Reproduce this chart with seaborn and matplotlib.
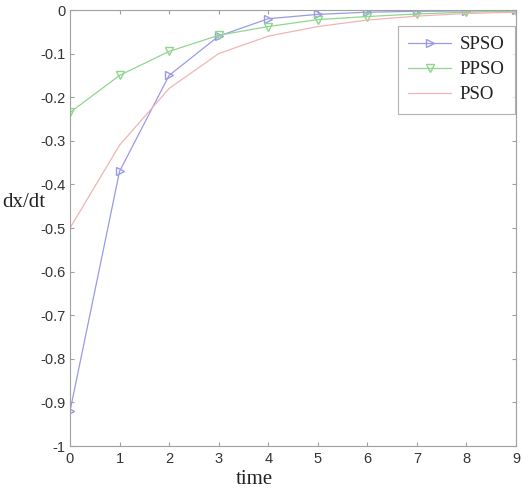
import numpy as np
import pandas as pd
import matplotlib
matplotlib.use("Agg")
import matplotlib.pyplot as plt
import seaborn as sns

time = [0, 1, 2, 3, 4, 5, 6, 7, 8, 9]
spso = [-0.92, -0.37, -0.15, -0.06, -0.02, -0.01, -0.005, -0.003, -0.002, -0.001]
ppso = [-0.235, -0.15, -0.095, -0.058, -0.038, -0.022, -0.015, -0.009, -0.005, -0.003]
pso = [-0.50, -0.31, -0.18, -0.10, -0.06, -0.038, -0.023, -0.014, -0.008, -0.005]
series_names = ["SPSO", "PPSO", "PSO"]
x_ticks = [0, 1, 2, 3, 4, 5, 6, 7, 8, 9]
y_ticks = [0, -0.1, -0.2, -0.3, -0.4, -0.5, -0.6, -0.7, -0.8, -0.9, -1]
y_tick_labels = ["0", "-0.1", "-0.2", "-0.3", "-0.4", "-0.5", "-0.6", "-0.7", "-0.8", "-0.9", "-1"]

df = pd.DataFrame({
    "time": time * 3,
    "value": spso + ppso + pso,
    "method": [n for n in series_names for _ in time],
})

sns.set_style("ticks")
plt.rcParams["font.family"] = ["Liberation Sans", "DejaVu Sans"]

fig = plt.figure(figsize=(5.26, 4.96), dpi=100)
ax = fig.add_axes([70 / 526, 1 - 446 / 496, (516 - 70) / 526, (446 - 10) / 496])

palette = {"SPSO": "#9a9ae6", "PPSO": "#8fd68f", "PSO": "#f2b4b4"}
markers = {"SPSO": ">", "PPSO": "v", "PSO": ""}

for name in series_names:
    sub = df[df["method"] == name]
    m = markers[name]
    sns.lineplot(
        data=sub, x="time", y="value", ax=ax, color=palette[name],
        linewidth=0.9, label=name,
        marker=m if m else None, markersize=6,
        markerfacecolor="none", markeredgecolor=palette[name], markeredgewidth=1.0,
    )

ax.set_xlim(0, 9)
ax.set_ylim(-1, 0)
ax.set_xticks(x_ticks)
ax.set_xticklabels([str(t) for t in x_ticks])
ax.set_yticks(y_ticks)
ax.set_yticklabels(y_tick_labels)

for side in ["top", "right", "left", "bottom"]:
    ax.spines[side].set_visible(True)
    ax.spines[side].set_color("#a0a0a0")
    ax.spines[side].set_linewidth(0.8)

ax.tick_params(direction="in", length=3, width=0.8, color="#a0a0a0",
               top=True, right=True, labelsize=10.5, labelcolor="#333333", pad=4)
ax.tick_params(axis="y", pad=3)

ax.set_xlabel("time", family=["Liberation Serif"], fontsize=15, color="#222222")
ax.set_ylabel("dx/dt", family=["Liberation Serif"], fontsize=15, color="#222222",
              rotation=0, ha="center", va="center")
ax.xaxis.set_label_coords((254 - 70) / 446, -0.055)
ax.yaxis.set_label_coords((24 - 70) / 446, (446 - 203) / 436)

leg = ax.legend(loc="upper right", bbox_to_anchor=(1.0, 0.966),
                prop={"family": "Liberation Serif", "size": 13.5},
                frameon=True, fancybox=False, handlelength=2.3,
                borderpad=0.55, labelspacing=0.42, handletextpad=0.45,
                borderaxespad=0.05)
leg.get_frame().set_edgecolor("#a0a0a0")
leg.get_frame().set_linewidth(0.8)
for t in leg.get_texts():
    t.set_color("#222222")

fig.savefig("out.png", dpi=100)
